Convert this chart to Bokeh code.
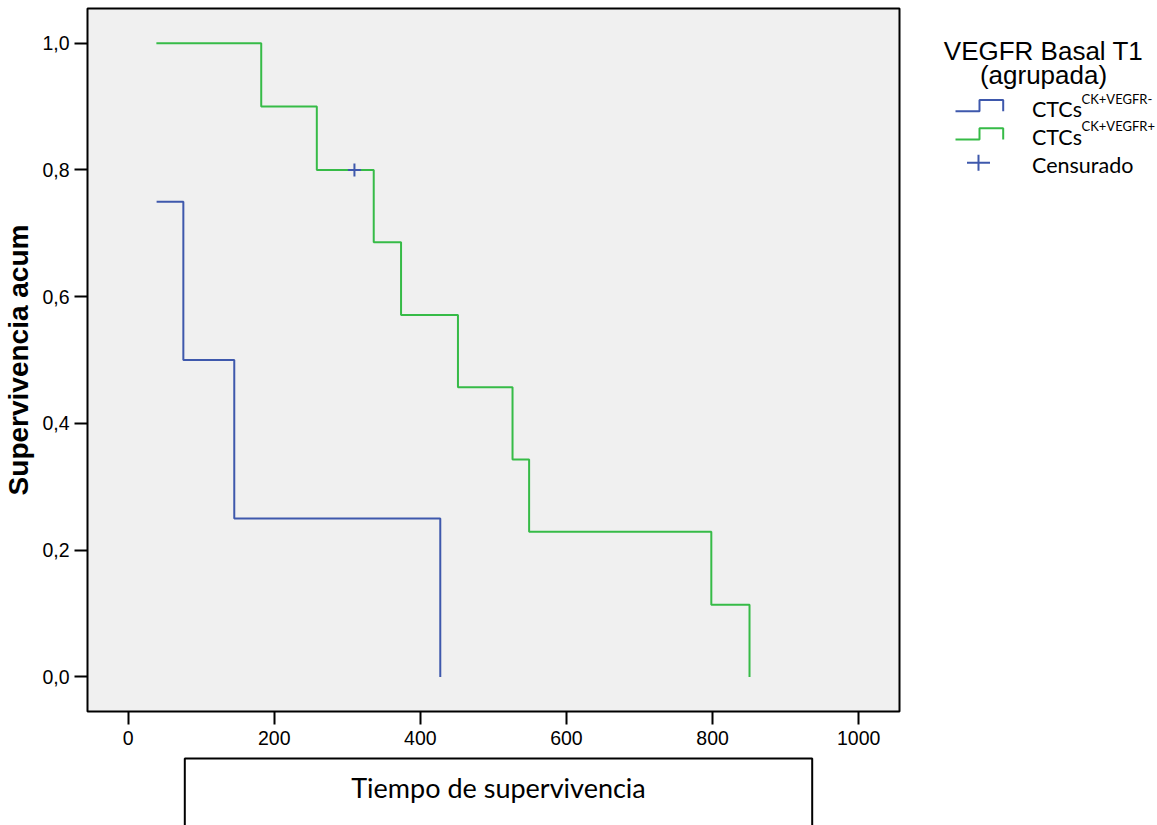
from bokeh.plotting import figure
from bokeh.models import Range1d, CustomJSTickFormatter, FixedTicker
from bokeh.layouts import column, row
from bokeh.core.properties import value
from bokeh.embed import file_html
from bokeh.resources import INLINE

# ---- data ----
neg_times = [39.0, 75.6, 145.3, 427.3]
neg_surv = [0.75, 0.50, 0.25, 0.0]

pos_times = [38.7, 182.2, 258.3, 336.2, 373.6, 451.5, 526.2, 548.9, 798.3, 850.6]
pos_surv = [1.0, 0.9, 0.8, 0.686, 0.571, 0.457, 0.343, 0.229, 0.114, 0.0]

censor_times = [309.8]
censor_surv = [0.8]

x_ticks = [0, 200, 400, 600, 800, 1000]
y_ticks = [0.0, 0.2, 0.4, 0.6, 0.8, 1.0]

legend_title = ["VEGFR Basal T1", "(agrupada)"]
legend_labels = ["CTCs", "CTCs", "Censurado"]
legend_sups = ["CK+VEGFR-", "CK+VEGFR+"]
x_label = "Tiempo de supervivencia"
y_label = "Supervivencia acum"

BLUE = "#3E58AC"
GREEN = "#36BB47"
ARIAL = "Liberation Sans"
CAL = "Lato"

# ---- main plot ----
p = figure(width=930, height=752, x_range=Range1d(-55.6, 1055.9),
           y_range=Range1d(-0.0545, 1.0548), output_backend="svg",
           toolbar_location=None, min_border_left=86, min_border_right=31,
           min_border_top=8, min_border_bottom=41)
p.background_fill_color = "#F0F0F0"
p.border_fill_color = "white"
p.outline_line_color = "black"
p.outline_line_width = 2
p.outline_line_alpha = 1.0
p.grid.visible = False

for ax in (p.xaxis[0], p.yaxis[0]):
    ax.axis_line_color = None
    ax.major_tick_in = 0
    ax.major_tick_out = 13
    ax.major_tick_line_width = 2
    ax.major_tick_line_color = "black"
    ax.minor_tick_line_color = None
    ax.major_label_text_font = ARIAL
    ax.major_label_text_font_size = "19.5px"
    ax.major_label_text_color = "black"

p.xaxis.ticker = FixedTicker(ticks=x_ticks)
p.xaxis.major_label_standoff = 6
p.yaxis.ticker = FixedTicker(ticks=y_ticks)
p.yaxis.formatter = CustomJSTickFormatter(code="return tick.toFixed(1).replace('.', ',');")
p.yaxis.major_label_standoff = 5
p.yaxis.axis_label = y_label
p.yaxis.axis_label_text_font = ARIAL
p.yaxis.axis_label_text_font_style = "bold"
p.yaxis.axis_label_text_font_size = "28px"
p.yaxis.axis_label_text_color = "black"
p.yaxis.axis_label_standoff = 5

p.step(neg_times, neg_surv, mode="after", line_color=BLUE, line_width=2)
p.step(pos_times, pos_surv, mode="after", line_color=GREEN, line_width=2)
p.scatter(censor_times, censor_surv, marker="cross", size=13, line_color=BLUE, line_width=2)

# ---- legend panel ----
lg = figure(width=227, height=752, x_range=Range1d(930, 1157), y_range=Range1d(752, 0),
            output_backend="svg", toolbar_location=None, min_border=0,
            x_axis_location=None, y_axis_location=None)
lg.outline_line_color = None
lg.grid.visible = False
lg.background_fill_color = "white"
lg.border_fill_color = "white"

lg.text(x=[1043, 1043], y=[45, 71], text=legend_title, text_font=value(ARIAL),
        text_font_size="26px", text_align="center", text_baseline="alphabetic",
        text_color="black")
lg.line([955, 979, 979, 1002.7, 1002.7], [110, 110, 98, 98, 110], line_color=BLUE, line_width=2)
lg.line([955, 979, 979, 1002.7, 1002.7], [140, 140, 128, 128, 140], line_color=GREEN, line_width=2)
lg.segment(x0=[966.5, 978], y0=[165, 156.5], x1=[989.5, 978], y1=[165, 173.5],
           line_color=BLUE, line_width=2)
lg.text(x=[1031.5, 1031.5, 1031.5], y=[108, 137, 167], text=legend_labels,
        text_font=value(CAL), text_font_size="21.5px", text_align="left",
        text_baseline="alphabetic", text_color="black")
lg.text(x=[1081, 1081], y=[97, 126], text=legend_sups, text_font=value(CAL),
        text_font_size="13px", text_align="left", text_baseline="alphabetic",
        text_color="black")

# ---- x label box ----
bt = figure(width=1157, height=73, x_range=Range1d(0, 1157), y_range=Range1d(825, 752),
            output_backend="svg", toolbar_location=None, min_border=0,
            x_axis_location=None, y_axis_location=None)
bt.outline_line_color = None
bt.grid.visible = False
bt.background_fill_color = "white"
bt.border_fill_color = "white"
bt.line([184.3, 184.3, 811.7, 811.7], [840, 758, 758, 840], line_color="black", line_width=2)
bt.text(x=[498], y=[787], text=[x_label], text_font=value(CAL), text_font_size="27px",
        text_align="center", text_baseline="middle", text_color="black")

layout = column(row(p, lg), bt)
open("out.html", "w").write(file_html(layout, INLINE))
